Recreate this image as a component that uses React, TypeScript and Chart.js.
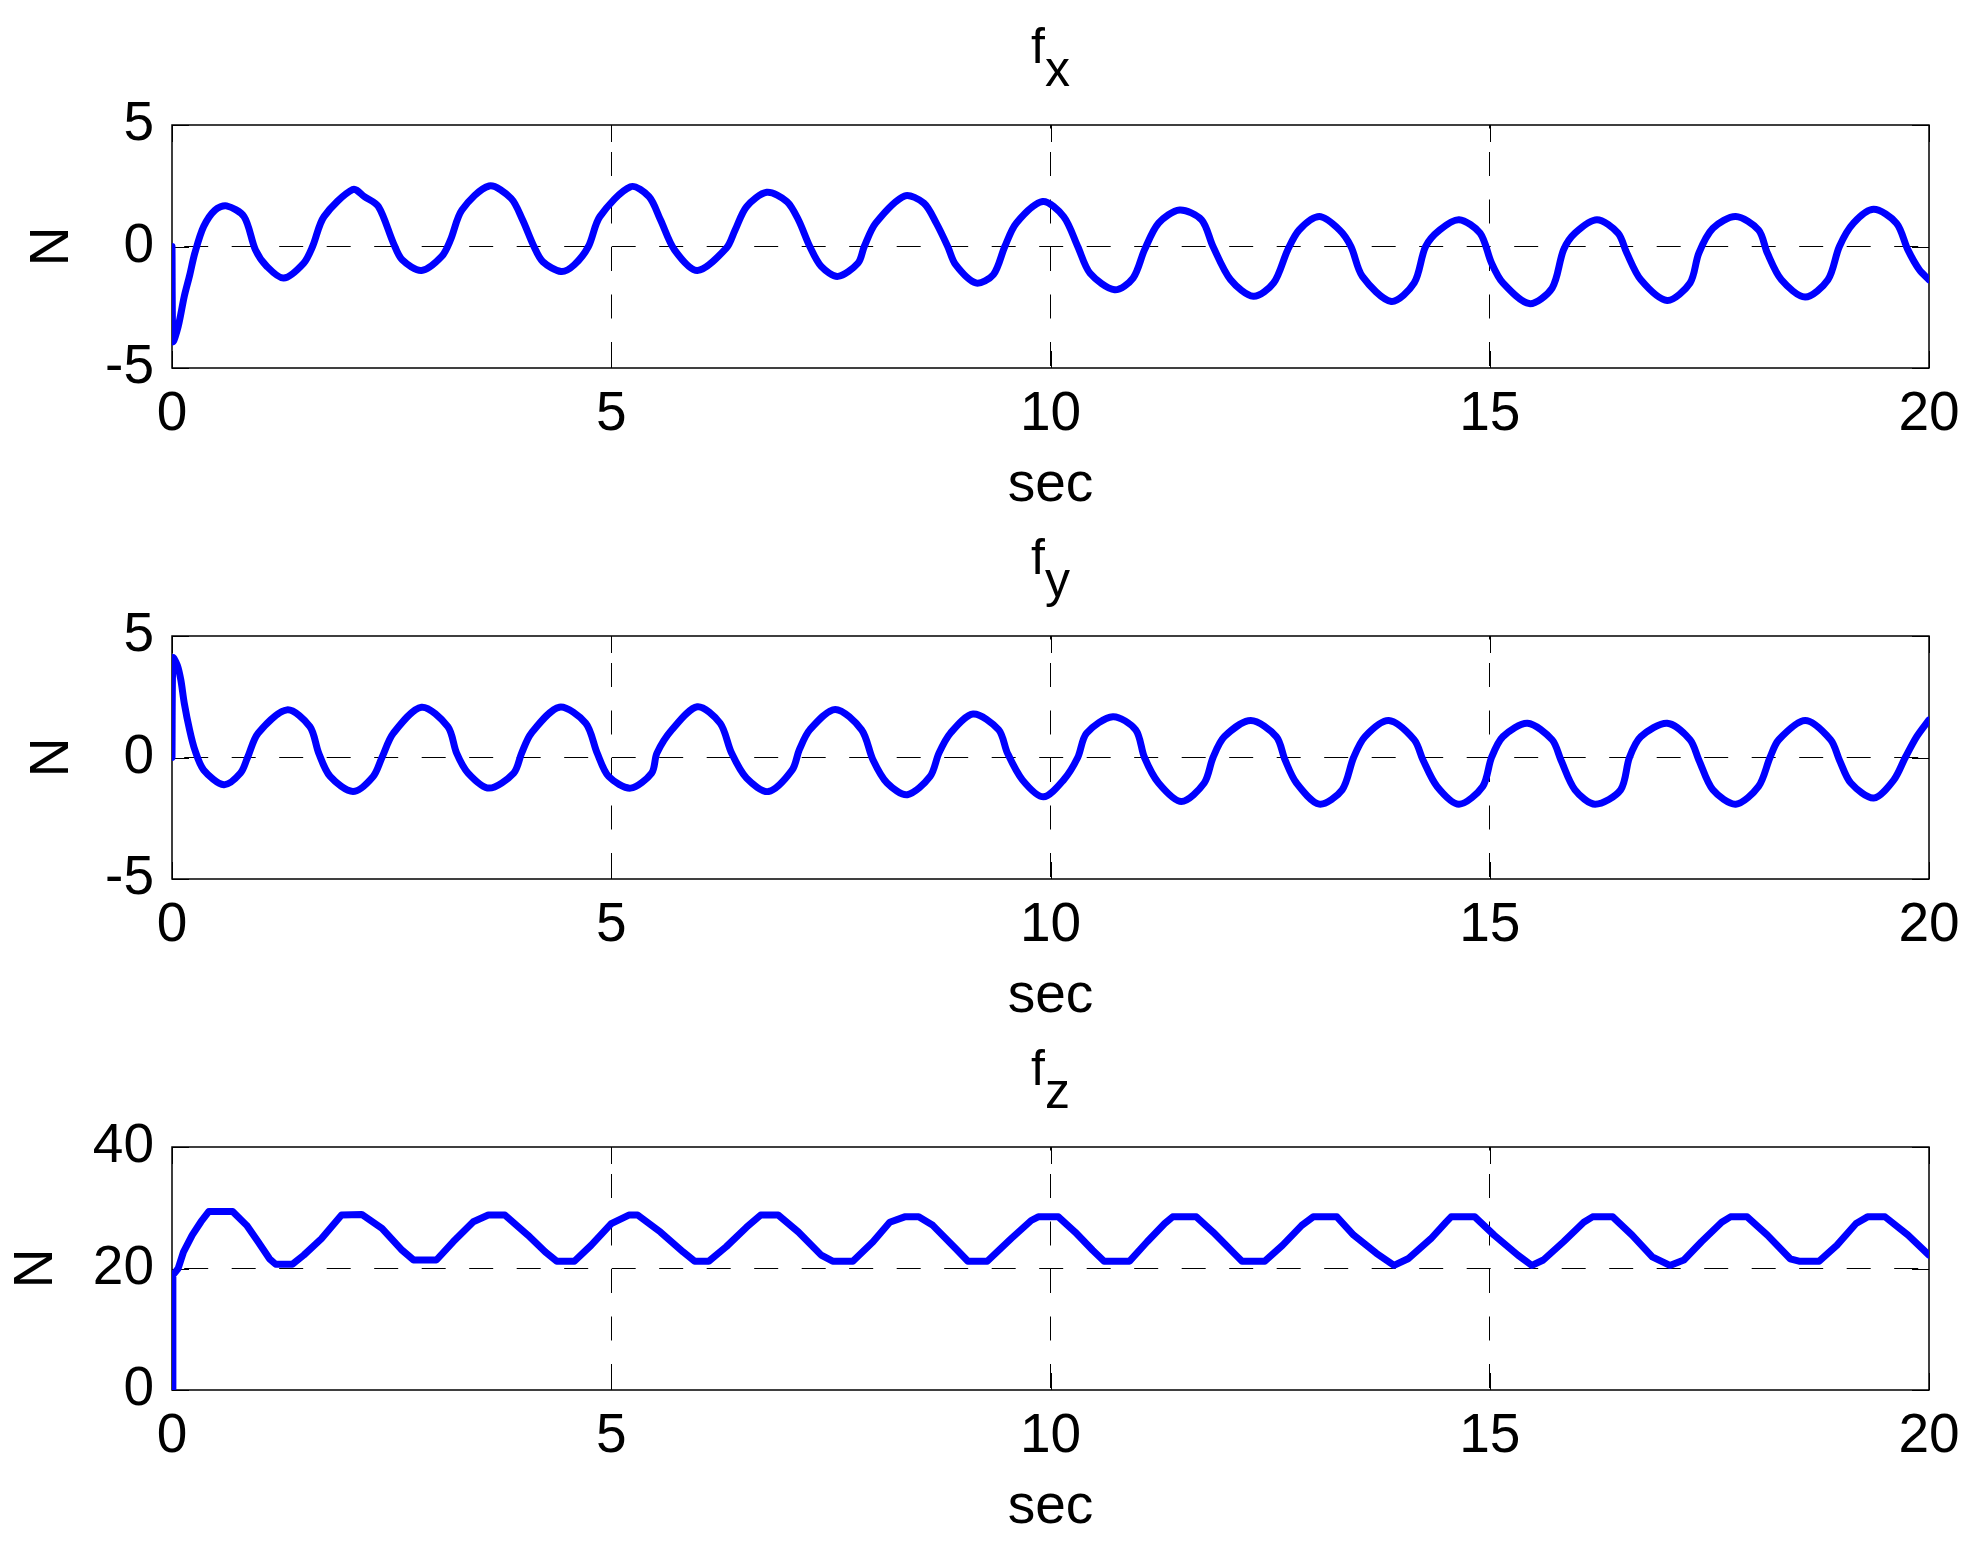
import React, { useEffect, useRef } from "react";
import { Chart, registerables } from "chart.js";

Chart.register(...registerables);

const FONT = '"Liberation Sans", Arial, Helvetica, sans-serif';

// ---- data ----
const xTicks = [0, 5, 10, 15, 20];

const fxTime = [
  0, 0.01, 0.07, 0.14, 0.2, 0.26, 0.36, 0.49, 0.62, 0.82, 0.95, 1.08, 1.27, 1.5, 1.6, 1.73,
  2.06, 2.19, 2.35, 2.52, 2.62, 2.84, 3.07, 3.17, 3.3, 3.61, 3.86, 3.99, 4.12, 4.22, 4.43,
  4.58, 4.74, 4.87, 5.22, 5.43, 5.56, 5.72, 5.98, 6.31, 6.41, 6.54, 6.77, 7.0, 7.13, 7.26,
  7.39, 7.58, 7.81, 7.88, 8.01, 8.34, 8.56, 8.7, 8.83, 8.92, 9.15, 9.35, 9.48, 9.61, 9.91,
  10.15, 10.31, 10.45, 10.73, 10.94, 11.07, 11.23, 11.47, 11.72, 11.85, 12.05, 12.31, 12.54,
  12.7, 12.83, 13.06, 13.29, 13.42, 13.55, 13.88, 14.14, 14.27, 14.43, 14.65, 14.89, 15.02,
  15.15, 15.45, 15.71, 15.84, 15.97, 16.22, 16.46, 16.56, 16.72, 17.02, 17.28, 17.38, 17.54,
  17.8, 18.06, 18.16, 18.32, 18.59, 18.85, 18.98, 19.14, 19.37, 19.63, 19.76, 19.89, 20.0,
];
const fxValues = [
  0, -3.9, -3.3, -2.05, -1.2, -0.27, 0.82, 1.5, 1.67, 1.23, -0.14, -0.82, -1.3, -0.68, 0, 1.23,
  2.35, 2.05, 1.64, 0.14, -0.55, -0.99, -0.41, 0.27, 1.5, 2.49, 1.98, 1.1, 0, -0.62, -1.03,
  -0.75, 0, 1.23, 2.46, 2.05, 1.1, -0.14, -0.99, -0.07, 0.68, 1.64, 2.23, 1.85, 1.1, 0,
  -0.82, -1.23, -0.68, 0, 0.96, 2.08, 1.78, 0.96, 0, -0.75, -1.5, -1.16, 0, 0.96, 1.85,
  1.23, 0, -1.1, -1.78, -1.3, -0.14, 0.96, 1.5, 1.1, 0, -1.37, -2.05, -1.5,
  -0.14, 0.68, 1.23, 0.68, 0, -1.23, -2.26, -1.5, 0, 0.68, 1.1, 0.55, -0.68,
  -1.5, -2.35, -1.71, -0.14, 0.55, 1.1, 0.55, -0.27, -1.37, -2.22, -1.5, -0.27, 0.75,
  1.23, 0.68, -0.27, -1.37, -2.08, -1.37, 0, 0.96, 1.53, 0.96, -0.14, -0.96, -1.37,
];

const fyTime = [
  0, 0.01, 0.06, 0.1, 0.14, 0.2, 0.26, 0.36, 0.59, 0.78, 0.86, 0.98, 1.31, 1.57, 1.67, 1.8,
  2.06, 2.29, 2.39, 2.52, 2.84, 3.14, 3.24, 3.37, 3.61, 3.89, 3.98, 4.09, 4.41, 4.71, 4.84,
  4.97, 5.22, 5.46, 5.52, 5.69, 5.98, 6.24, 6.37, 6.54, 6.79, 7.06, 7.14, 7.26, 7.55, 7.85,
  7.98, 8.14, 8.37, 8.63, 8.73, 8.86, 9.12, 9.41, 9.51, 9.68, 9.92, 10.15, 10.31, 10.41,
  10.71, 10.97, 11.07, 11.23, 11.49, 11.75, 11.85, 11.98, 12.28, 12.57, 12.67, 12.8, 13.06,
  13.32, 13.45, 13.58, 13.85, 14.14, 14.24, 14.4, 14.65, 14.92, 15.02, 15.15, 15.43, 15.71,
  15.81, 15.97, 16.2, 16.49, 16.59, 16.72, 17.02, 17.28, 17.38, 17.54, 17.8, 18.06, 18.19,
  18.29, 18.59, 18.88, 18.98, 19.11, 19.37, 19.6, 19.73, 19.86, 20.0,
];
const fyValues = [
  0, 4.1, 3.8, 3.2, 2.23, 1.14, 0.31, -0.51, -1.12, -0.64, 0, 1.0, 1.96, 1.27, 0.18, -0.78,
  -1.4, -0.78, 0, 1.0, 2.07, 1.27, 0.18, -0.64, -1.26, -0.64, 0.18, 1.0, 2.07, 1.41, 0.18,
  -0.78, -1.26, -0.64, 0.18, 1.14, 2.09, 1.41, 0.18, -0.85, -1.4, -0.51, 0.31, 1.14, 1.98, 1.14,
  -0.1, -1.05, -1.53, -0.78, 0.18, 1.0, 1.79, 1.14, 0.18, -0.92, -1.62, -0.92, 0, 1.0,
  1.68, 1.14, 0, -1.05, -1.81, -1.05, 0, 0.86, 1.52, 0.86, -0.1, -1.05, -1.92,
  -1.33, 0, 0.86, 1.52, 0.73, -0.1, -1.19, -1.92, -1.19, 0, 0.86, 1.41, 0.73,
  -0.1, -1.33, -1.92, -1.33, 0, 0.86, 1.41, 0.73, -0.1, -1.33, -1.92, -1.19, 0,
  0.73, 1.52, 0.73, -0.1, -1.05, -1.67, -0.92, 0, 0.86, 1.55,
];

const fzTime = [
  0, 0.01, 0.07, 0.13, 0.23, 0.33, 0.42, 0.69, 0.85, 0.98, 1.11, 1.18, 1.37, 1.5, 1.7, 1.93,
  2.16, 2.39, 2.62, 2.75, 3.01, 3.2, 3.43, 3.6, 3.79, 4.05, 4.25, 4.38, 4.58, 4.77, 5.0,
  5.2, 5.3, 5.56, 5.82, 5.95, 6.11, 6.31, 6.54, 6.7, 6.9, 7.13, 7.39, 7.52, 7.75, 7.98,
  8.17, 8.34, 8.5, 8.66, 8.92, 9.06, 9.28, 9.55, 9.78, 9.86, 10.09, 10.28, 10.48, 10.61,
  10.9, 11.1, 11.3, 11.39, 11.66, 11.85, 12.11, 12.18, 12.44, 12.64, 12.86, 12.99, 13.26,
  13.45, 13.71, 13.91, 14.07, 14.33, 14.5, 14.56, 14.83, 15.05, 15.32, 15.48, 15.61, 15.84,
  16.07, 16.17, 16.4, 16.62, 16.85, 17.05, 17.21, 17.41, 17.64, 17.74, 17.93, 18.16, 18.42,
  18.52, 18.75, 18.95, 19.17, 19.3, 19.5, 19.76, 20.0,
];
const fzValues = [
  0, 18.9, 20.0, 22.7, 25.5, 27.7, 29.4, 29.4, 27.1, 24.4, 21.6, 20.7, 20.7, 22.2, 24.9, 28.8,
  28.9, 26.6, 23.0, 21.4, 21.4, 24.4, 27.7, 28.8, 28.8, 25.5, 22.7, 21.2, 21.2, 23.8, 27.4,
  28.8, 28.8, 26.0, 22.7, 21.2, 21.2, 23.6, 26.8, 28.8, 28.8, 26.0, 22.2, 21.2, 21.2, 24.4,
  27.6, 28.5, 28.5, 27.1, 23.3, 21.2, 21.2, 24.9, 27.9, 28.5, 28.5, 26.0, 23.0, 21.2,
  21.2, 24.4, 27.4, 28.5, 28.5, 26.0, 22.2, 21.2, 21.2, 23.8, 27.1, 28.5, 28.5,
  25.5, 22.5, 20.5, 21.6, 24.9, 27.6, 28.5, 28.5, 25.5, 22.2, 20.5, 21.4, 24.4,
  27.6, 28.5, 28.5, 25.5, 21.9, 20.5, 21.4, 24.4, 27.6, 28.5, 28.5, 25.5, 21.6,
  21.2, 21.2, 23.8, 27.4, 28.5, 28.5, 25.5, 22.2,
];

const fxYTicks = [-5, 0, 5];
const fyYTicks = [-5, 0, 5];
const fzYTicks = [0, 20, 40];

const titles = ["f", "f", "f"];
const subscripts = ["x", "y", "z"];
const xLabel = "sec";
const yLabel = "N";

// ---- layout ----
const W = 1982;
const AREA_LEFT = 172;
const AREA_RIGHT = 1929;
const AREA_H = 243;
const XAXIS_H = 150;
const TICK_SIZE = 55;

type Panel = {
  sub: string;
  time: number[];
  values: number[];
  yTicks: number[];
  tension: number;
  top: number;
  height: number;
  padTop: number;
  yTitlePad: number;
};

const panels: Panel[] = [
  { sub: subscripts[0], time: fxTime, values: fxValues, yTicks: fxYTicks, tension: 0.3, top: 0, height: 520, padTop: 125, yTitlePad: 20 },
  { sub: subscripts[1], time: fyTime, values: fyValues, yTicks: fyYTicks, tension: 0.3, top: 520, height: 520, padTop: 116, yTitlePad: 20 },
  { sub: subscripts[2], time: fzTime, values: fzValues, yTicks: fzYTicks, tension: 0, top: 1030, height: 520, padTop: 117, yTitlePad: 4 },
];

function makeFrame(yTicks: number[]) {
  return {
    id: "frame",
    beforeDatasetsDraw(chart: any) {
      const { ctx, chartArea } = chart;
      const xs = chart.scales.x;
      const ys = chart.scales.y;
      const L = 17;
      ctx.save();
      ctx.strokeStyle = "#000";
      ctx.lineWidth = 1;
      ctx.setLineDash([]);
      ctx.beginPath();
      for (const v of xTicks) {
        const px = Math.round(xs.getPixelForValue(v)) + 0.5;
        ctx.moveTo(px, chartArea.top);
        ctx.lineTo(px, chartArea.top + L);
        ctx.moveTo(px, chartArea.bottom);
        ctx.lineTo(px, chartArea.bottom - L);
      }
      for (const v of yTicks) {
        const py = Math.round(ys.getPixelForValue(v)) + 0.5;
        ctx.moveTo(chartArea.left, py);
        ctx.lineTo(chartArea.left + L, py);
        ctx.moveTo(chartArea.right, py);
        ctx.lineTo(chartArea.right - L, py);
      }
      ctx.stroke();
      ctx.lineWidth = 1.5;
      ctx.strokeRect(chartArea.left, chartArea.top, chartArea.right - chartArea.left, chartArea.bottom - chartArea.top);
      ctx.restore();
    },
  };
}

function makeTitle(main: string, sub: string) {
  return {
    id: "subTitle",
    afterDraw(chart: any) {
      const { ctx, chartArea } = chart;
      ctx.save();
      ctx.fillStyle = "#000";
      ctx.font = `50px ${FONT}`;
      ctx.textBaseline = "alphabetic";
      ctx.textAlign = "left";
      const wMain = ctx.measureText(main).width;
      const wSub = ctx.measureText(sub).width;
      const cx = (chartArea.left + chartArea.right) / 2;
      const x0 = cx - (wMain + wSub) / 2;
      ctx.fillText(main, x0, chartArea.top - 62);
      ctx.fillText(sub, x0 + wMain, chartArea.top - 39);
      ctx.restore();
    },
  };
}

function SubPlot({ p, idx }: { p: Panel; idx: number }) {
  const ref = useRef<HTMLCanvasElement | null>(null);
  useEffect(() => {
    if (!ref.current) return;
    const yMin = p.yTicks[0];
    const yMax = p.yTicks[p.yTicks.length - 1];
    const ref0 = p.yTicks[1];
    const padBottom = p.height - p.padTop - AREA_H - XAXIS_H;
    const chart = new Chart(ref.current, {
      type: "line",
      data: {
        datasets: [
          {
            data: p.time.map((t, i) => ({ x: t, y: p.values[i] })),
            borderColor: "#0000ff",
            borderWidth: 7,
            pointRadius: 0,
            fill: false,
            tension: p.tension,
            clip: 0,
            borderJoinStyle: "round",
            borderCapStyle: "round",
          } as any,
        ],
      },
      options: {
        responsive: false,
        animation: false,
        events: [],
        layout: { padding: { left: 0, top: p.padTop, right: W - AREA_RIGHT, bottom: padBottom } },
        plugins: { legend: { display: false }, title: { display: false }, tooltip: { enabled: false } },
        scales: {
          x: {
            type: "linear",
            min: 0,
            max: 20,
            afterBuildTicks: (s: any) => {
              s.ticks = xTicks.map((v) => ({ value: v }));
            },
            afterFit: (s: any) => {
              s.height = XAXIS_H;
            },
            grid: {
              color: (c: any) => (c.tick && (c.tick.value === 0 || c.tick.value === 20) ? "rgba(0,0,0,0)" : "#000"),
              lineWidth: 1,
              drawTicks: false,
            },
            border: { display: false, dash: [24, 23.5], dashOffset: 20.5 },
            ticks: {
              font: { size: TICK_SIZE, family: FONT },
              color: "#000",
              padding: 14,
              maxRotation: 0,
              autoSkip: false,
            },
            title: {
              display: true,
              text: xLabel,
              color: "#000",
              font: { size: TICK_SIZE, family: FONT },
              padding: { top: 0, bottom: -1 },
            },
          },
          y: {
            type: "linear",
            min: yMin,
            max: yMax,
            afterBuildTicks: (s: any) => {
              s.ticks = p.yTicks.map((v) => ({ value: v }));
            },
            afterFit: (s: any) => {
              s.width = AREA_LEFT;
            },
            grid: {
              color: (c: any) => (c.tick && c.tick.value === ref0 ? "#000" : "rgba(0,0,0,0)"),
              lineWidth: 1,
              drawTicks: false,
            },
            border: { display: false, dash: [24, 23.5], dashOffset: 35.3 },
            ticks: {
              font: { size: TICK_SIZE, family: FONT },
              color: "#000",
              padding: 18,
              autoSkip: false,
            },
            title: {
              display: true,
              text: yLabel,
              color: "#000",
              font: { size: TICK_SIZE, family: FONT },
              padding: { top: p.yTitlePad, bottom: 0 },
            },
          },
        },
      } as any,
      plugins: [makeFrame(p.yTicks), makeTitle(titles[idx], p.sub)],
    });
    return () => chart.destroy();
  }, [p, idx]);
  return (
    <canvas
      ref={ref}
      width={W}
      height={p.height}
      style={{ position: "absolute", left: 0, top: p.top, width: W, height: p.height, display: "block" }}
    />
  );
}

export default function App() {
  return (
    <div style={{ position: "absolute", left: 0, top: 0, width: W, height: 1550, background: "#fff", overflow: "hidden" }}>
      {panels.map((p, i) => (
        <SubPlot key={i} p={p} idx={i} />
      ))}
    </div>
  );
}
